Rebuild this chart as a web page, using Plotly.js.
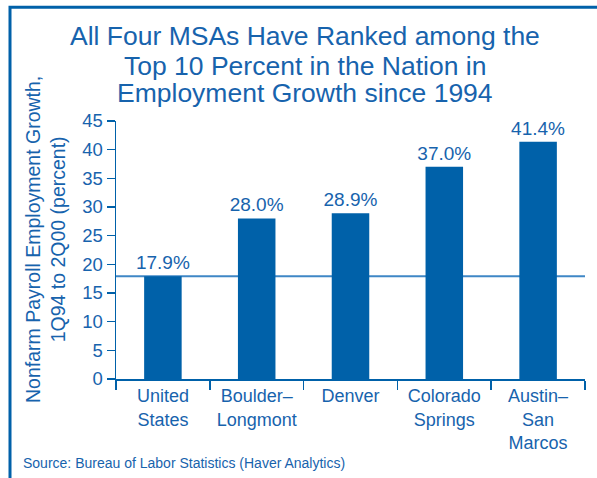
<!DOCTYPE html>
<html>
<head>
<meta charset="utf-8">
<script src="https://cdn.plot.ly/plotly-3.0.1.min.js"></script>
<style>
html,body{margin:0;padding:0;background:#fff;}
#chart{width:597px;height:478px;}
</style>
</head>
<body>
<div id="chart"></div>
<script>
var categories = ["United<br>States", "Boulder–<br>Longmont", "Denver", "Colorado<br>Springs", "Austin–<br>San<br>Marcos"];
var values = [17.9, 28.0, 28.9, 37.0, 41.4];
var valueLabels = ["17.9%", "28.0%", "28.9%", "37.0%", "41.4%"];
var referenceValue = 17.9;
var yTicks = [0, 5, 10, 15, 20, 25, 30, 35, 40, 45];
var titleLines = ["All Four MSAs Have Ranked among the", "Top 10 Percent in the Nation in", "Employment Growth since 1994"];

var blue = "#0061a9";
var textBlue = "#1763ad";
var font = "Liberation Sans, Arial, Helvetica, sans-serif";

var trace = {
  type: "bar",
  x: categories,
  y: values,
  text: valueLabels,
  textposition: "outside",
  constraintext: "none",
  cliponaxis: false,
  textfont: {family: font, size: 19, color: textBlue},
  marker: {color: blue, line: {width: 0}},
  width: 0.4,
  hoverinfo: "skip"
};

// pixel -> paper helpers (plot area: x 116..585, y 121..379)
function px(x) { return (x - 116) / 469; }
function py(y) { return (379 - y) / 258; }

var titleY = [36, 65.5, 93];
var annotations = titleLines.map(function (t, i) {
  return {xref: "paper", yref: "paper", x: px(305), y: py(titleY[i]), xanchor: "center", yanchor: "middle",
    text: t, showarrow: false, font: {family: font, size: 26.5, color: textBlue}};
});
annotations.push(
  {xref: "paper", yref: "paper", x: px(45), y: py(240), xanchor: "center", yanchor: "middle",
   text: "Nonfarm Payroll Employment Growth,<br>1Q94 to 2Q00 (percent)", textangle: -90,
   showarrow: false, font: {family: font, size: 19.5, color: textBlue}, align: "center"},
  {xref: "paper", yref: "paper", x: px(21), y: py(463), xanchor: "left", yanchor: "middle",
   text: "Source: Bureau of Labor Statistics (Haver Analytics)",
   showarrow: false, font: {family: font, size: 14, color: textBlue}, align: "left"}
);

var layout = {
  width: 597,
  height: 478,
  margin: {l: 116, r: 12, t: 121, b: 99},
  paper_bgcolor: "#fff",
  plot_bgcolor: "#fff",
  showlegend: false,
  font: {family: font, color: textBlue},
  xaxis: {
    type: "category",
    showgrid: false,
    showline: true,
    linecolor: blue,
    linewidth: 1.5,
    ticks: "outside",
    tickson: "boundaries",
    ticklen: 9,
    tickwidth: 1.5,
    tickcolor: blue,
    tickfont: {family: font, size: 18, color: textBlue},
    fixedrange: true
  },
  yaxis: {
    range: [0, 45],
    tickvals: yTicks,
    ticktext: yTicks.map(String),
    showgrid: false,
    zeroline: false,
    showline: true,
    linecolor: blue,
    linewidth: 1.5,
    ticks: "outside",
    ticklen: 8,
    tickwidth: 1.5,
    tickcolor: blue,
    tickfont: {family: font, size: 18.5, color: textBlue},
    fixedrange: true
  },
  shapes: [
    {type: "line", xref: "paper", yref: "y", x0: 0, x1: 1, y0: referenceValue, y1: referenceValue,
     line: {color: "#3f87c6", width: 2}, layer: "below"},
    {type: "rect", xref: "paper", yref: "paper", x0: px(10), x1: px(640), y0: py(540), y1: py(7.2),
     line: {color: blue, width: 3}, fillcolor: "rgba(0,0,0,0)"}
  ],
  annotations: annotations
};

Plotly.newPlot("chart", [trace], layout, {staticPlot: true, displayModeBar: false});
</script>
</body>
</html>
